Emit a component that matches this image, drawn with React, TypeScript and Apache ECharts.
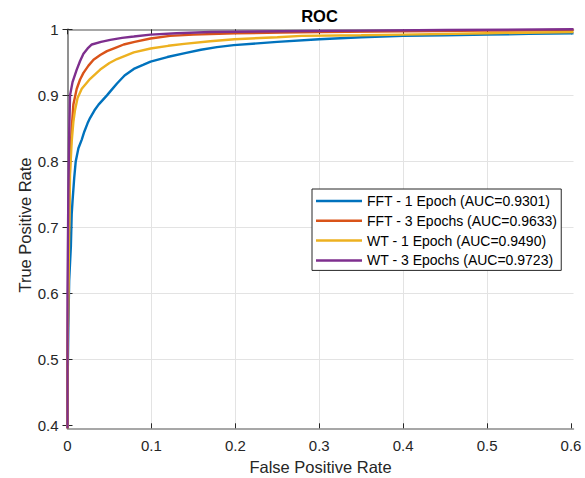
import React, { useEffect, useRef } from "react";
import * as echarts from "echarts";

const xTicks = [0, 0.1, 0.2, 0.3, 0.4, 0.5, 0.6];
const yTicks = [0.4, 0.5, 0.6, 0.7, 0.8, 0.9, 1];
const xMin = 0;
const xMax = 0.603;
const yMin = 0.396;
const yMax = 1;

const seriesNames = [
  "FFT - 1 Epoch (AUC=0.9301)",
  "FFT - 3 Epochs (AUC=0.9633)",
  "WT - 1 Epoch (AUC=0.9490)",
  "WT - 3 Epochs (AUC=0.9723)",
];
const seriesColors = ["#0072BD", "#D95319", "#EDB120", "#7E2F8E"];

const fft1Epoch: [number, number][] = [
  [0, 0.396], [0, 0.45], [0.001, 0.55], [0.002, 0.62], [0.004, 0.671], [0.005, 0.72],
  [0.006, 0.74], [0.008, 0.775], [0.0098, 0.8], [0.013, 0.82], [0.017, 0.833],
  [0.02, 0.845], [0.024, 0.858], [0.027, 0.866], [0.032, 0.877], [0.037, 0.886],
  [0.047, 0.9], [0.051, 0.906], [0.059, 0.918], [0.068, 0.93], [0.079, 0.94],
  [0.09, 0.946], [0.099, 0.951], [0.119, 0.958], [0.14, 0.964], [0.159, 0.969],
  [0.178, 0.973], [0.198, 0.976], [0.25, 0.981], [0.3, 0.985], [0.35, 0.988],
  [0.4, 0.99], [0.45, 0.991], [0.5, 0.992], [0.55, 0.993], [0.603, 0.994],
];

const fft3Epochs: [number, number][] = [
  [0, 0.396], [0, 0.5], [0.001, 0.62], [0.002, 0.72], [0.003, 0.8], [0.005, 0.85],
  [0.007, 0.886], [0.011, 0.91], [0.015, 0.924], [0.019, 0.934], [0.025, 0.945],
  [0.031, 0.954], [0.039, 0.961], [0.047, 0.967], [0.057, 0.972], [0.067, 0.977],
  [0.08, 0.981], [0.099, 0.986], [0.122, 0.99], [0.15, 0.992], [0.2, 0.994],
  [0.254, 0.995], [0.3, 0.996], [0.4, 0.997], [0.5, 0.998], [0.603, 0.999],
];

const wt1Epoch: [number, number][] = [
  [0, 0.396], [0, 0.5], [0.001, 0.6], [0.002, 0.7], [0.003, 0.78], [0.005, 0.83],
  [0.007, 0.86], [0.009, 0.878], [0.012, 0.896], [0.017, 0.91], [0.027, 0.925],
  [0.039, 0.939], [0.05, 0.949], [0.059, 0.955], [0.079, 0.965], [0.099, 0.971],
  [0.12, 0.975], [0.139, 0.978], [0.17, 0.982], [0.199, 0.985], [0.25, 0.988],
  [0.279, 0.99], [0.35, 0.991], [0.4, 0.992], [0.5, 0.994], [0.603, 0.996],
];

const wt3Epochs: [number, number][] = [
  [0, 0.396], [0, 0.6], [0.001, 0.75], [0.002, 0.84], [0.003, 0.9], [0.006, 0.92],
  [0.011, 0.939], [0.015, 0.952], [0.019, 0.963], [0.024, 0.971], [0.029, 0.977],
  [0.04, 0.981], [0.051, 0.984], [0.065, 0.987], [0.079, 0.989], [0.099, 0.992],
  [0.13, 0.994], [0.17, 0.996], [0.254, 0.997], [0.35, 0.998], [0.45, 0.999],
  [0.603, 1.0],
];

const seriesData = [fft1Epoch, fft3Epochs, wt1Epoch, wt3Epochs];

const FONT = "'Liberation Sans', Arial, Helvetica, sans-serif";
const TEXT = "#262626";

const fmt = (v: number) => {
  if (Math.abs(v * 10 - Math.round(v * 10)) > 1e-6) return "";
  return String(Number(v.toFixed(1)));
};

export default function App() {
  const ref = useRef<HTMLDivElement>(null);

  useEffect(() => {
    if (!ref.current) return;
    const chart = echarts.init(ref.current, undefined, { renderer: "svg" });
    const GL = 67.5, GT = 29.3, GW = 506, GH = 399;

    const axisLine = { show: true, lineStyle: { color: "#8a8a8a", width: 1.5 } };
    const tick = (vals: number[]) => ({
      show: true,
      inside: true,
      length: 5,
      customValues: vals,
      lineStyle: { color: TEXT, width: 1 },
    });

    const option: any = {
      animation: false,
      backgroundColor: "#ffffff",
      grid: { left: GL, top: GT, width: GW, height: GH, containLabel: false },
      xAxis: [
        {
          type: "value",
          position: "bottom",
          min: xMin,
          max: xMax,
          splitNumber: 6,
          axisLine,
          axisTick: tick(xTicks),
          axisLabel: {
            customValues: xTicks,
            formatter: fmt,
            color: TEXT,
            fontSize: 15,
            fontFamily: FONT,
            margin: 10,
          },
          splitLine: {
            show: true,
            showMinLine: false,
            showMaxLine: false,
            lineStyle: { color: "#e3e3e3", width: 1 },
          },
        },
        {
          type: "value",
          position: "top",
          min: xMin,
          max: xMax,
          splitNumber: 6,
          axisLine,
          axisTick: tick(xTicks),
          axisLabel: { show: false },
          splitLine: { show: false },
        },
      ],
      yAxis: [
        {
          type: "value",
          position: "left",
          min: yMin,
          max: yMax,
          splitNumber: 6,
          axisLine,
          axisTick: tick(yTicks),
          axisLabel: {
            customValues: yTicks,
            formatter: fmt,
            color: TEXT,
            fontSize: 15,
            fontFamily: FONT,
            margin: 9,
          },
          splitLine: {
            show: true,
            showMinLine: false,
            showMaxLine: false,
            lineStyle: { color: "#e3e3e3", width: 1 },
          },
        },
        {
          type: "value",
          position: "right",
          min: yMin,
          max: yMax,
          splitNumber: 6,
          axisLine,
          axisTick: tick(yTicks),
          axisLabel: { show: false },
          splitLine: { show: false },
        },
      ],
      legend: {
        orient: "vertical",
        left: 312,
        top: 189,
        icon: "rect",
        itemWidth: 46,
        itemHeight: 2.5,
        itemGap: 5.8,
        padding: [5, 4, 3, 4],
        backgroundColor: "#ffffff",
        borderColor: "#262626",
        borderWidth: 1,
        selectedMode: false,
        textStyle: { color: "#000000", fontSize: 14, fontFamily: FONT },
        data: seriesNames,
      },
      graphic: [
        {
          type: "text",
          x: 319.5,
          y: 16,
          style: {
            text: "ROC",
            font: `bold 16.5px ${FONT}`,
            fill: "#000000",
            align: "center",
            verticalAlign: "middle",
          },
        },
        {
          type: "text",
          x: 320.5,
          y: 467,
          style: {
            text: "False Positive Rate",
            font: `16.5px ${FONT}`,
            fill: TEXT,
            align: "center",
            verticalAlign: "middle",
          },
        },
        {
          type: "text",
          x: 24.5,
          y: 225,
          rotation: Math.PI / 2,
          style: {
            text: "True Positive Rate",
            font: `16.5px ${FONT}`,
            fill: TEXT,
            align: "center",
            verticalAlign: "middle",
          },
        },
      ],
      series: seriesNames.map((name, i) => ({
        name,
        type: "line",
        data: seriesData[i],
        symbol: "none",
        showSymbol: false,
        xAxisIndex: 0,
        yAxisIndex: 0,
        color: seriesColors[i],
        lineStyle: { color: seriesColors[i], width: 2.4 },
        z: 2 + i,
      })),
    };

    chart.setOption(option);
    return () => chart.dispose();
  }, []);

  return (
    <div
      ref={ref}
      style={{ position: "absolute", left: 0, top: 0, width: 585, height: 478 }}
    />
  );
}
